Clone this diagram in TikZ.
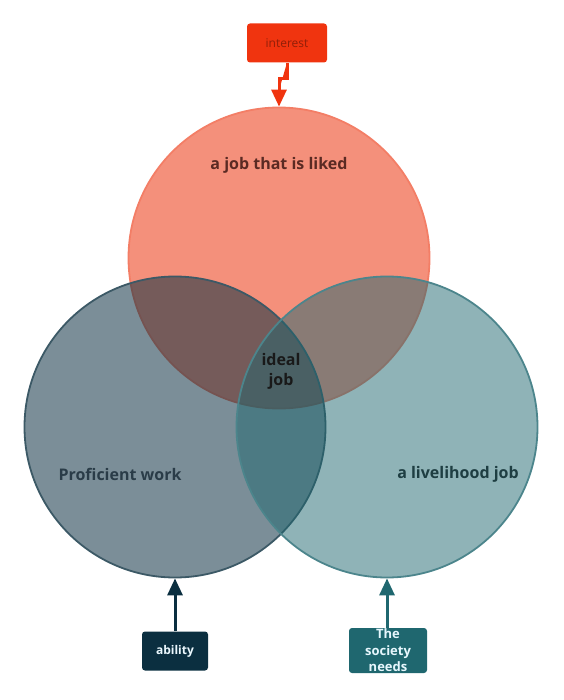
\documentclass[tikz,border=0pt]{standalone}
\usepackage{fontspec}
\setmainfont{Open Sans}
\usetikzlibrary{positioning,arrows.meta}

\definecolor{likedred}{HTML}{EC3914}
\definecolor{interestred}{HTML}{F0340F}
\definecolor{abilityblue}{HTML}{0B2F40}
\definecolor{societyteal}{HTML}{1F676F}

\begin{document}
\begin{tikzpicture}[x=1pt,y=-1pt,
    ringnode/.style={circle, minimum size=301pt, line width=1.8pt},
    tagnode/.style={rectangle, rounded corners=3pt, inner sep=2pt, font=\fontsize{12}{14}\selectfont},
    ringtext/.style={font=\fontsize{16}{19}\selectfont\bfseries},
    pointer/.style={line width=3pt, -{Triangle[width=15pt,length=17pt]}},
    ]
    \useasboundingbox (0,0) rectangle (563,700);

    %Circles
    \node[ringnode, draw=likedred!65, fill=likedred, fill opacity=0.56]       (liked)   at (279,258) {};
    \node[ringnode, draw=abilityblue!80, fill=abilityblue, fill opacity=0.54] (skilled) at (175,427) {};
    \node[ringnode, draw=societyteal!80, fill=societyteal, fill opacity=0.5]  (living)  at (387,427) {};

    %Texts
    \node[ringtext, text={rgb,255:red,90;green,42;blue,35}]  (likedtxt)   at (279,165) {a job that is liked};
    \node[ringtext, text={rgb,255:red,42;green,60;blue,72}]  (skilledtxt) at (120,474) {Proficient work};
    \node[ringtext, text={rgb,255:red,30;green,62;blue,66}]  (livingtxt)  at (458,474) {a livelihood job};
    \node[ringtext, text=black!90, align=center, font=\fontsize{16}{20}\selectfont\bfseries] (ideal) at (281,371) {ideal\\job};

    %Tags
    \node[tagnode, fill=interestred, text=interestred!60!black, minimum width=80pt, minimum height=39pt] (interest) at (287,43) {interest};
    \node[tagnode, fill=abilityblue, text=white!92!cyan, font=\fontsize{12}{14}\selectfont\bfseries, minimum width=66pt, minimum height=39pt] (ability) at (175,651) {ability};
    \node[tagnode, fill=societyteal, text=white!90!cyan, font=\fontsize{13}{16.5}\selectfont\bfseries, align=center, minimum width=78pt, minimum height=45pt, inner sep=0pt] (society) at (388,650.5) {The\\society\\needs};

    %Lines
    \draw[pointer, draw=interestred, fill=interestred] (interest.south) -- ++(0,16) -| (liked.north);
    \draw[pointer, draw=abilityblue, fill=abilityblue] (ability.north) -- (skilled.south);
    \draw[pointer, draw=societyteal, fill=societyteal] (society.north -| living.south) -- (living.south);
\end{tikzpicture}
\end{document}
